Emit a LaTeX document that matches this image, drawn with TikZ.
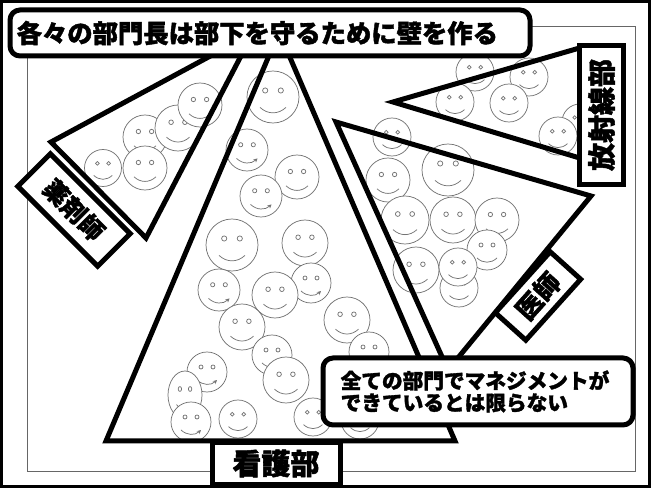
\documentclass[tikz,border=0pt]{standalone}
\usepackage{fontspec}
\newfontfamily\jp{Noto Sans CJK JP}[BoldFeatures={FakeBold=1.6}]
\usetikzlibrary{arrows.meta}

% smiling face: centre x, centre y, x radius, y radius, extra mouth options
\newcommand\face[5]{%
  \begin{scope}[shift={(#1,#2)},xscale=#3,yscale=#4]
    \filldraw[facestyle,fill=white] (0,0) circle[radius=1];
    \draw[facestyle] (-0.3,-0.25) circle[radius=0.1] (0.3,-0.25) circle[radius=0.1];
    \draw[facestyle,#5] (-0.5,0.4) .. controls (-0.2,0.68) and (0.2,0.68) .. (0.5,0.4);
  \end{scope}}

\begin{document}
\begin{tikzpicture}[x=0.75pt,y=-0.75pt,
  wall/.style={line width=3.75pt, line join=miter},
  tag/.style={draw, line width=3.75pt, fill=white, inner sep=0pt, font=\jp\bfseries},
  bubble/.style={draw, line width=3.75pt, fill=white, rounded corners=7.5pt, font=\jp\bfseries},
  facestyle/.style={draw=black!55, line width=0.55pt},
  tipmouth/.style={-{Stealth[length=3pt,width=3pt]}},
]
\useasboundingbox (0,0) rectangle (651,488);

% outer and inner frames
\draw[line width=2.25pt] (1.5,1.5) rectangle (649.5,486.5);
\draw[black!60, line width=0.75pt] (27,27) rectangle (635,472);

% pharmacy faces
\face{145}{137}{22}{22}{}
\face{178}{128}{23}{23}{}
\face{200}{105}{22}{22}{}
\face{103}{168}{18.5}{18.5}{}
\face{145}{168}{22}{22}{}

% nursing faces
\face{273}{97}{26}{26}{}
\face{247}{150}{21}{21}{tipmouth}
\face{297}{177}{22}{22}{}
\face{261}{196}{21}{21}{tipmouth}
\face{232}{245}{26}{26}{}
\face{305}{243}{23}{23}{}
\face{311}{283}{20}{20}{tipmouth}
\face{219}{290}{21}{21}{tipmouth}
\face{275}{295}{23}{23}{}
\face{347}{320}{23}{23}{}
\face{242}{327}{23}{23}{}
\face{369}{352}{20}{20}{}
\face{272}{355}{20}{20}{}
\face{286}{380}{23}{23}{}
\face{207}{372}{20}{20}{tipmouth}
\face{185}{395}{17}{24}{}
\face{191}{422}{20}{20}{tipmouth}
\face{238}{419}{19}{19}{}
\face{313}{417}{19}{19}{}
\face{360}{420}{19}{19}{}

% doctors faces
\face{392}{137}{19}{19}{}
\face{388}{180}{22}{22}{}
\face{448}{170}{26}{26}{}
\face{405}{220}{24}{24}{}
\face{453}{220}{23}{23}{}
\face{497}{220}{22}{22}{}
\face{487}{250}{20}{20}{}
\face{416}{270}{23}{23}{}
\face{459}{288}{19}{19}{}
\face{458}{267}{19}{19}{}

% radiology faces
\face{475}{72}{19}{19}{}
\face{529}{77}{19}{19}{}
\face{580}{122}{18}{18}{}
\face{455}{102}{19}{19}{}
\face{509}{103}{19}{19}{}
\face{558}{136}{19}{19}{}

% department walls
\coordinate (nA) at (279,32);
\coordinate (nL) at (106,441);
\coordinate (nR) at (455,441);
\draw[wall] (nA) -- (nL) -- (nR) -- cycle;

\coordinate (pA) at (253,33);
\coordinate (pL) at (51,142);
\coordinate (pB) at (146,238);
\draw[wall] (pA) -- (pL) -- (pB) -- cycle;

\coordinate (rA) at (393,102);
\coordinate (rT) at (583,47);
\coordinate (rB) at (583,159);
\draw[wall] (rA) -- (rT) -- (rB) -- cycle;

\coordinate (dL) at (336,122);
\coordinate (dR) at (591,196);
\coordinate (dB) at (448,370);
\draw[wall] (dL) -- (dR) -- (dB) -- cycle;

% department labels
\node[tag, minimum width=96pt, minimum height=31.9pt, font=\jp\bfseries\fontsize{21.75}{24}\selectfont]
  (nurse) at (276,463.5) {看護部};
\node[tag, minimum width=84.75pt, minimum height=34.5pt, rotate=-45, font=\jp\bfseries\fontsize{18.5}{20}\selectfont]
  (pharm) at (74,210) {薬剤師};
\node[tag, minimum width=104.25pt, minimum height=33pt, rotate=90, font=\jp\bfseries\fontsize{21}{23}\selectfont]
  (radio) at (601.5,115) {放射線部};
\node[tag, minimum width=61.5pt, minimum height=30.75pt, rotate=48, font=\jp\bfseries\fontsize{19.5}{21}\selectfont]
  (doc) at (538,296) {医師};

% headline and comment
\node[bubble, minimum height=34.5pt, text width=380pt, inner xsep=5pt, inner ysep=0pt, align=left,
  font=\jp\bfseries\fontsize{19}{21}\selectfont]
  (title) at (270,33) {各々の部門長は部下を守るために壁を作る};
\node[bubble, minimum height=50.25pt, text width=206pt, inner xsep=13.25pt, inner ysep=0pt, align=left,
  font=\jp\bfseries\fontsize{15.5}{16.5}\selectfont]
  (note) at (478,391.5) {全ての部門でマネジメントが\\できているとは限らない};
\end{tikzpicture}
\end{document}
